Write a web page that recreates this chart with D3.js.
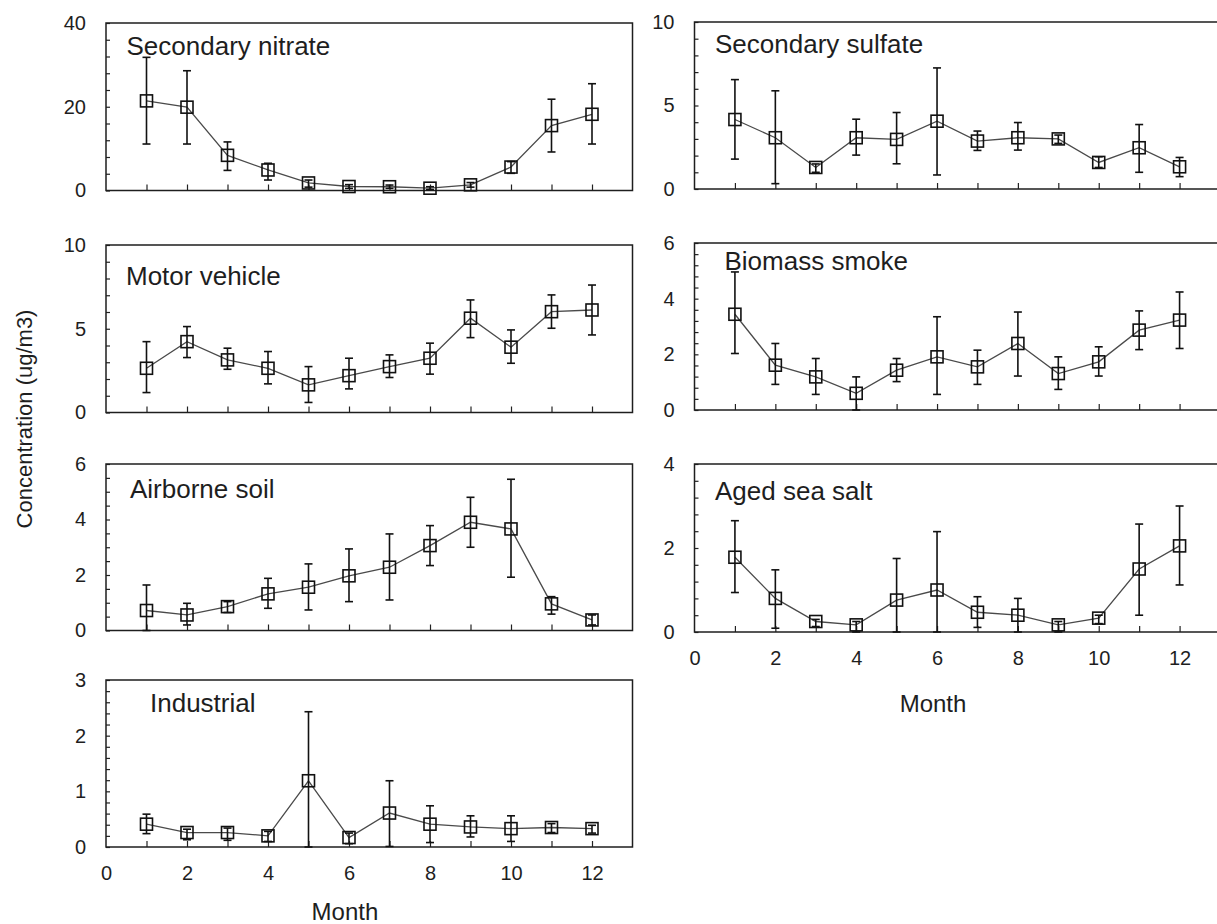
<!DOCTYPE html>
<html>
<head>
<meta charset="utf-8">
<script src="https://cdn.jsdelivr.net/npm/d3@7"></script>
<style>
  body { margin: 0; background: #fff; }
  svg { display: block; }
  text { font-family: "Liberation Sans", Arial, sans-serif; fill: #1e1e1e; }
</style>
</head>
<body>
<svg id="chart" width="1217" height="924"></svg>
<script>
// Monthly mean source contributions (ug/m3) with upper / lower error bounds
const months = [1, 2, 3, 4, 5, 6, 7, 8, 9, 10, 11, 12];
const monthTickLabels = [0, 2, 4, 6, 8, 10, 12];

const nitrateMean = [21.4, 19.9, 8.4, 4.9, 1.8, 0.95, 0.9, 0.55, 1.35, 5.6, 15.5, 18.2];
const nitrateHigh = [31.8, 28.6, 11.6, 6.5, 2.5, 1.4, 1.3, 0.9, 1.9, 6.9, 21.8, 25.5];
const nitrateLow  = [11.1, 11.1, 4.8, 2.5, 0.8, 0.5, 0.5, 0.2, 0.8, 4.1, 9.2, 11.1];

const sulfateMean = [4.16, 3.07, 1.29, 3.07, 2.97, 4.06, 2.87, 3.07, 3.0, 1.59, 2.47, 1.33];
const sulfateHigh = [6.55, 5.88, 1.5, 4.18, 4.58, 7.25, 3.47, 3.98, 3.23, 1.93, 3.86, 1.89];
const sulfateLow  = [1.79, 0.32, 1.0, 2.03, 1.51, 0.84, 2.31, 2.33, 2.73, 1.29, 1.0, 0.74];

const vehicleMean = [2.64, 4.23, 3.14, 2.64, 1.65, 2.2, 2.74, 3.24, 5.63, 3.9, 6.02, 6.12];
const vehicleHigh = [4.23, 5.13, 3.84, 3.64, 2.74, 3.24, 3.44, 4.14, 6.72, 4.93, 7.02, 7.61];
const vehicleLow  = [1.19, 3.28, 2.58, 1.71, 0.6, 1.41, 2.09, 2.29, 4.47, 2.94, 5.03, 4.63];

const biomassMean = [3.44, 1.61, 1.19, 0.6, 1.43, 1.91, 1.55, 2.39, 1.31, 1.73, 2.87, 3.23];
const biomassHigh = [4.96, 2.39, 1.85, 1.19, 1.85, 3.35, 2.15, 3.52, 1.91, 2.27, 3.56, 4.24];
const biomassLow  = [2.03, 0.92, 0.56, 0.0, 1.02, 0.56, 0.92, 1.22, 0.74, 1.22, 2.17, 2.21];

const soilMean = [0.72, 0.56, 0.86, 1.32, 1.56, 1.97, 2.28, 3.06, 3.9, 3.66, 0.96, 0.38];
const soilHigh = [1.64, 0.98, 1.04, 1.88, 2.4, 2.94, 3.48, 3.78, 4.8, 5.45, 1.22, 0.56];
const soilLow  = [0.0, 0.2, 0.65, 0.8, 0.74, 1.04, 1.1, 2.34, 3.0, 1.92, 0.59, 0.2];

const seaSaltMean = [1.78, 0.8, 0.25, 0.17, 0.76, 1.0, 0.47, 0.4, 0.17, 0.33, 1.5, 2.05];
const seaSaltHigh = [2.65, 1.48, 0.3, 0.25, 1.75, 2.39, 0.84, 0.8, 0.25, 0.4, 2.57, 3.0];
const seaSaltLow  = [0.94, 0.09, 0.13, 0.0, 0.0, 0.0, 0.11, 0.0, 0.0, 0.2, 0.4, 1.12];

const industrialMean = [0.41, 0.26, 0.26, 0.2, 1.19, 0.17, 0.61, 0.41, 0.36, 0.33, 0.35, 0.33];
const industrialHigh = [0.59, 0.32, 0.34, 0.28, 2.43, 0.25, 1.19, 0.74, 0.56, 0.56, 0.42, 0.39];
const industrialLow  = [0.24, 0.13, 0.12, 0.1, 0.0, 0.06, 0.01, 0.08, 0.18, 0.1, 0.26, 0.25];

// Panel layout: box position, y range, tick spacing and title placement
const leftCol = [106, 632.5];
const rightCol = [694.5, 1220];

const panels = [
  { title: "Secondary nitrate", mean: nitrateMean, high: nitrateHigh, low: nitrateLow,
    yMax: 40, major: 20, minor: 4, cols: leftCol, top: 23, bottom: 190.5, tx: 126.5, ty: 55, xLabels: false },
  { title: "Motor vehicle", mean: vehicleMean, high: vehicleHigh, low: vehicleLow,
    yMax: 10, major: 5, minor: 1, cols: leftCol, top: 245, bottom: 412.5, tx: 126, ty: 285, xLabels: false },
  { title: "Airborne soil", mean: soilMean, high: soilHigh, low: soilLow,
    yMax: 6, major: 2, minor: 0.5, cols: leftCol, top: 464, bottom: 630.5, tx: 130, ty: 498, xLabels: false },
  { title: "Industrial", mean: industrialMean, high: industrialHigh, low: industrialLow,
    yMax: 3, major: 1, minor: 0.2, cols: leftCol, top: 680, bottom: 847, tx: 150, ty: 711.5, xLabels: true, monthY: 920 },
  { title: "Secondary sulfate", mean: sulfateMean, high: sulfateHigh, low: sulfateLow,
    yMax: 10, major: 5, minor: 1, cols: rightCol, top: 22, bottom: 189, tx: 715, ty: 53, xLabels: false },
  { title: "Biomass smoke", mean: biomassMean, high: biomassHigh, low: biomassLow,
    yMax: 6, major: 2, minor: 0.4, cols: rightCol, top: 243, bottom: 410, tx: 724.5, ty: 270, xLabels: false },
  { title: "Aged sea salt", mean: seaSaltMean, high: seaSaltHigh, low: seaSaltLow,
    yMax: 4, major: 2, minor: 0.4, cols: rightCol, top: 464, bottom: 632, tx: 715, ty: 500, xLabels: true, monthY: 712 }
];

const svg = d3.select("#chart");
const intFmt = d3.format("d");

function ticksBetween(max, step) {
  const n = Math.round(max / step);
  return d3.range(0, n + 1).map(i => +(i * step).toFixed(6));
}

panels.forEach(p => {
  const x = d3.scaleLinear().domain([0, 13]).range(p.cols);
  const y = d3.scaleLinear().domain([0, p.yMax]).range([p.bottom, p.top]);
  const g = svg.append("g");

  // inward minor ticks on the left edge
  g.append("g")
    .attr("transform", `translate(${p.cols[0]},0)`)
    .call(d3.axisLeft(y).tickValues(ticksBetween(p.yMax, p.minor)).tickSize(-4).tickFormat(""))
    .call(a => a.select(".domain").remove())
    .call(a => a.selectAll("line").attr("stroke", "#222").attr("stroke-width", 1.2));

  // y tick labels
  g.append("g")
    .attr("transform", `translate(${p.cols[0]},0)`)
    .call(d3.axisLeft(y).tickValues(ticksBetween(p.yMax, p.major)).tickFormat(intFmt).tickSize(0).tickPadding(20))
    .call(a => a.select(".domain").remove())
    .call(a => a.selectAll("text").attr("font-size", 20).attr("fill", "#1e1e1e")
      .attr("font-family", '"Liberation Sans", Arial, sans-serif'));

  // inward month ticks on the bottom edge
  g.append("g")
    .attr("transform", `translate(0,${p.bottom})`)
    .call(d3.axisBottom(x).tickValues(months).tickSize(-6).tickFormat(""))
    .call(a => a.select(".domain").remove())
    .call(a => a.selectAll("line").attr("stroke", "#222").attr("stroke-width", 1.2));

  if (p.xLabels) {
    g.append("g")
      .attr("transform", `translate(0,${p.bottom})`)
      .call(d3.axisBottom(x).tickValues(monthTickLabels).tickFormat(intFmt).tickSize(0).tickPadding(19))
      .call(a => a.select(".domain").remove())
      .call(a => a.selectAll("text").attr("font-size", 20).attr("fill", "#1e1e1e")
        .attr("font-family", '"Liberation Sans", Arial, sans-serif'));

    g.append("text")
      .attr("x", x(5.9))
      .attr("y", p.monthY)
      .attr("text-anchor", "middle")
      .attr("font-size", 24)
      .text("Month");
  }

  // plot frame
  g.append("rect")
    .attr("x", p.cols[0]).attr("y", p.top)
    .attr("width", p.cols[1] - p.cols[0]).attr("height", p.bottom - p.top)
    .attr("fill", "none").attr("stroke", "#1e1e1e").attr("stroke-width", 1.5);

  // panel title
  g.append("text")
    .attr("x", p.tx).attr("y", p.ty)
    .attr("font-size", 26)
    .text(p.title);

  const rows = months.map((m, i) => ({ m, v: p.mean[i], hi: p.high[i], lo: p.low[i] }));

  // connecting line
  g.append("path")
    .datum(rows)
    .attr("fill", "none")
    .attr("stroke", "#4a4a4a")
    .attr("stroke-width", 1.3)
    .attr("d", d3.line().x(d => x(d.m)).y(d => y(d.v)));

  // error bars with caps
  const eb = g.append("g").attr("stroke", "#111").attr("stroke-width", 1.6);
  eb.selectAll("line.v").data(rows).join("line")
    .attr("x1", d => x(d.m)).attr("x2", d => x(d.m))
    .attr("y1", d => y(d.hi)).attr("y2", d => y(d.lo));
  eb.selectAll("line.cap-hi").data(rows).join("line")
    .attr("x1", d => x(d.m) - 4).attr("x2", d => x(d.m) + 4)
    .attr("y1", d => y(d.hi)).attr("y2", d => y(d.hi));
  eb.selectAll("line.cap-lo").data(rows).join("line")
    .attr("x1", d => x(d.m) - 4).attr("x2", d => x(d.m) + 4)
    .attr("y1", d => y(d.lo)).attr("y2", d => y(d.lo));

  // open square markers
  const s = 12;
  g.append("g").selectAll("rect").data(rows).join("rect")
    .attr("x", d => x(d.m) - s / 2).attr("y", d => y(d.v) - s / 2)
    .attr("width", s).attr("height", s)
    .attr("fill", "none").attr("stroke", "#111").attr("stroke-width", 1.6);
});

// shared y axis title
svg.append("text")
  .attr("transform", "translate(32,419) rotate(-90)")
  .attr("text-anchor", "middle")
  .attr("font-size", 22)
  .text("Concentration (ug/m3)");
</script>
</body>
</html>
